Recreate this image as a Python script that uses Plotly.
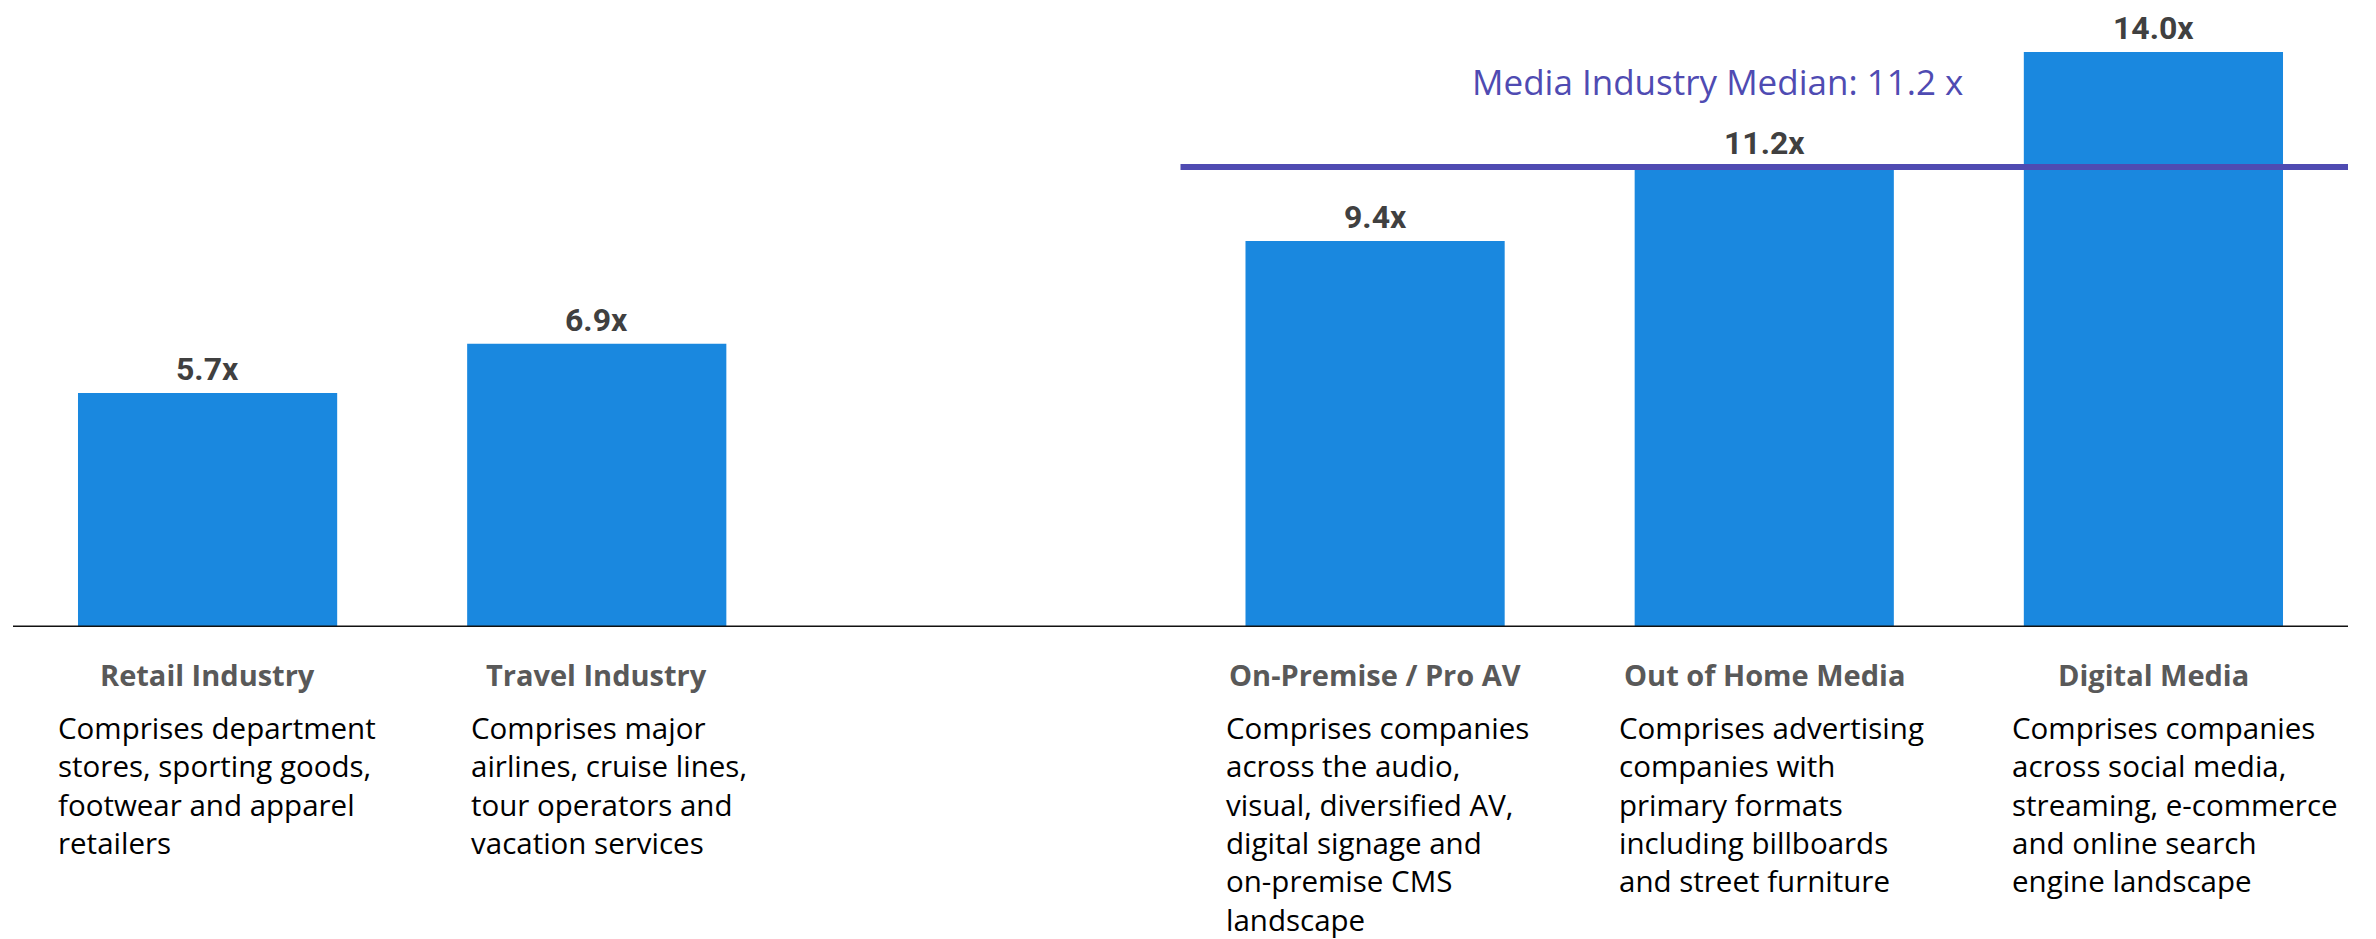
import plotly.graph_objects as go

# ---- data ----
categories = ["Retail Industry", "Travel Industry", "", "On-Premise / Pro AV",
              "Out of Home Media", "Digital Media"]
values = [5.7, 6.9, None, 9.4, 11.2, 14.0]
value_labels = ["5.7x", "6.9x", "", "9.4x", "11.2x", "14.0x"]
descriptions = [
    "Comprises department<br>stores, sporting goods,<br>footwear and apparel<br>retailers",
    "Comprises major<br>airlines, cruise lines,<br>tour operators and<br>vacation services",
    "",
    "Comprises companies<br>across the audio,<br>visual, diversified AV,<br>digital signage and<br>on-premise CMS<br>landscape",
    "Comprises advertising<br>companies with<br>primary formats<br>including billboards<br>and street furniture",
    "Comprises companies<br>across social media,<br>streaming, e-commerce<br>and online search<br>engine landscape",
]
median_value = 11.2
median_label = "Media Industry Median: 11.2 x"

# ---- style ----
BAR_COLOR = "#1A88DF"
MEDIAN_COLOR = "#4F4BB2"
FONT = "Open Sans"
VALUE_FONT = "Roboto"
desc_offsets = [-0.39, -0.329, 0, -0.388, -0.378, -0.368]

x_pos = list(range(len(categories)))
bx = [x for x, v in zip(x_pos, values) if v is not None]
by = [v for v in values if v is not None]

fig = go.Figure()
fig.add_trace(go.Bar(x=bx, y=by, width=0.666, marker_color=BAR_COLOR,
                     marker_line_width=0, hoverinfo="skip"))

annotations = []
for x, v, lab, cat, desc, off in zip(x_pos, values, value_labels, categories,
                                      descriptions, desc_offsets):
    if v is None:
        continue
    annotations.append(dict(x=x, y=v, xref="x", yref="y", text=f"<b>{lab}</b>",
                            showarrow=False, yanchor="bottom", yshift=3,
                            font=dict(family=VALUE_FONT, size=32, color="#404040")))
    annotations.append(dict(x=x, y=0, xref="x", yref="y", text=f"<b>{cat}</b>",
                            showarrow=False, yanchor="top", yshift=-26,
                            font=dict(family=FONT, size=29, color="#595959")))
    annotations.append(dict(x=x + off, y=0, xref="x", yref="y", text=desc,
                            showarrow=False, xanchor="left", yanchor="top",
                            align="left", yshift=-78,
                            font=dict(family=FONT, size=29.5, color="#000000")))

annotations.append(dict(x=3.88, y=median_value, xref="x", yref="y", text=median_label,
                        showarrow=False, yanchor="middle", yshift=86,
                        font=dict(family=FONT, size=35, color=MEDIAN_COLOR)))

shapes = [
    dict(type="line", xref="x", yref="y", x0=-0.5, x1=5.5, y0=0, y1=0,
         line=dict(color="#111111", width=3)),
    dict(type="line", xref="x", yref="y", x0=2.5, x1=5.5, y0=median_value,
         y1=median_value, line=dict(color=MEDIAN_COLOR, width=6)),
]

fig.update_layout(
    width=2368, height=931,
    margin=dict(l=5, r=28, t=3, b=312),
    plot_bgcolor="white", paper_bgcolor="white",
    showlegend=False,
    xaxis=dict(range=[-0.5, 5.5], showticklabels=False, showgrid=False,
               zeroline=False, showline=False, fixedrange=True),
    yaxis=dict(range=[0, 15], showticklabels=False, showgrid=False,
               zeroline=False, showline=False, fixedrange=True),
    annotations=annotations,
    shapes=shapes,
    font=dict(family=FONT),
)

fig.write_html("out.html")
